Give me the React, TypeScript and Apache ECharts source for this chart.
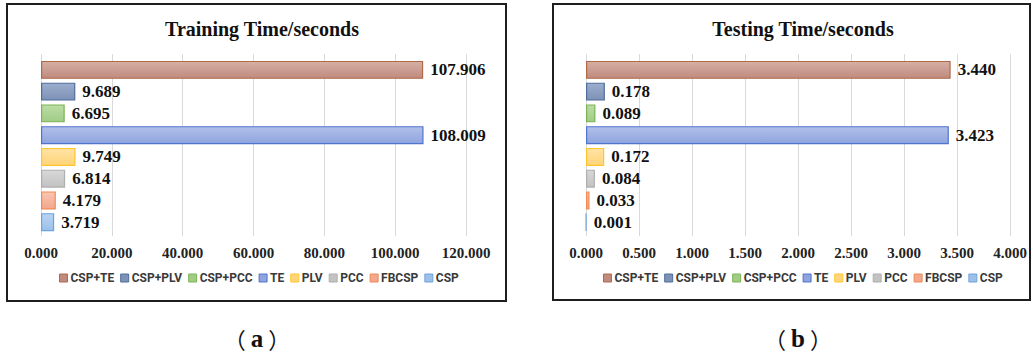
import React, { useEffect, useRef } from "react";
import * as echarts from "echarts";

// Method names, top to bottom, also the legend order
const methods = ["CSP+TE", "CSP+PLV", "CSP+PCC", "TE", "PLV", "PCC", "FBCSP", "CSP"];

// Training time in seconds, per method
const trainingTime = [107.906, 9.689, 6.695, 108.009, 9.749, 6.814, 4.179, 3.719];

// Testing time in seconds, per method
const testingTime = [3.44, 0.178, 0.089, 3.423, 0.172, 0.084, 0.033, 0.001];

// Axis ranges and tick steps
const trainingAxis = { min: 0, max: 120, interval: 20 };
const testingAxis = { min: 0, max: 4, interval: 0.5 };

const panelTitles = ["Training Time/seconds", "Testing Time/seconds"];
const captions = ["a", "b"];

// Border colour, gradient top and gradient bottom for each method
const palette: [string, string, string][] = [
  ["#b06a48", "#d6b0a6", "#c08a7d"],
  ["#4e6d9c", "#9daecd", "#7d92b7"],
  ["#7cb356", "#bcdca6", "#a0cc86"],
  ["#4f74cf", "#b2c0ea", "#8fa4de"],
  ["#ffc52e", "#ffe3a3", "#ffd47a"],
  ["#afafaf", "#d8d8d8", "#c2c2c2"],
  ["#ef8a52", "#f9c6b3", "#f2a78e"],
  ["#6ea4dc", "#bad4f2", "#9cc0ea"],
];

const SERIF = "'Liberation Serif', 'Times New Roman', serif";
const SANS = "'Liberation Sans Narrow', 'Arial Narrow', Roboto, 'Liberation Sans', sans-serif";

export default function App() {
  const ref = useRef<HTMLDivElement>(null);

  useEffect(() => {
    if (!ref.current) return;
    const chart = echarts.init(ref.current, null, { renderer: "svg" });

    const panels = [
      { left: 41, width: 425, axis: trainingAxis, values: trainingTime, cx: 257, legendLeft: 59 },
      { left: 586, width: 424, axis: testingAxis, values: testingTime, cx: 798, legendLeft: 603 },
    ];

    const grids: any[] = [];
    const xAxes: any[] = [];
    const yAxes: any[] = [];
    const series: any[] = [];
    const titles: any[] = [];
    const legends: any[] = [];

    panels.forEach((p, pi) => {
      // grid holding the vertical gridlines and tick labels
      grids.push({ left: p.left, width: p.width, top: 54, height: 182 });
      // grid holding the bars
      grids.push({ left: p.left, width: p.width, top: 59, height: 174 });
      const gGrid = pi * 2;
      const bGrid = pi * 2 + 1;

      xAxes.push({
        type: "value",
        gridIndex: gGrid,
        min: p.axis.min,
        max: p.axis.max,
        interval: p.axis.interval,
        axisLine: { show: false },
        axisTick: { show: false },
        splitLine: { show: true, lineStyle: { color: "#d9d9d9", width: 1 } },
        axisLabel: {
          margin: 9,
          fontFamily: SERIF,
          fontWeight: "bold",
          fontSize: 15,
          color: "#222",
          formatter: (v: number) => v.toFixed(3),
        },
      });
      yAxes.push({
        type: "category",
        gridIndex: gGrid,
        data: [""],
        show: false,
      });

      xAxes.push({
        type: "value",
        gridIndex: bGrid,
        min: p.axis.min,
        max: p.axis.max,
        show: false,
        splitLine: { show: false },
      });
      yAxes.push({
        type: "category",
        gridIndex: bGrid,
        data: methods,
        inverse: true,
        show: false,
      });

      methods.forEach((name, i) => {
        const [border, top, bottom] = palette[i];
        series.push({
          type: "bar",
          name,
          xAxisIndex: pi * 2 + 1,
          yAxisIndex: pi * 2 + 1,
          barWidth: 18,
          barGap: "-100%",
          data: methods.map((_, j) => (j === i ? p.values[i] : "-")),
          itemStyle: {
            color: new echarts.graphic.LinearGradient(0, 0, 0, 1, [
              { offset: 0, color: top },
              { offset: 1, color: bottom },
            ]),
            borderColor: border,
            borderWidth: 1.2,
          },
          label: {
            show: true,
            position: "right",
            distance: 7,
            fontFamily: SERIF,
            fontWeight: "bold",
            fontSize: 17,
            color: "#111",
            formatter: (d: any) => Number(d.value).toFixed(3),
          },
        });
      });

      titles.push({
        text: panelTitles[pi],
        left: p.cx,
        top: 14,
        padding: 5,
        textAlign: "center",
        textStyle: { fontFamily: SERIF, fontWeight: "bold", fontSize: 20, color: "#111" },
      });

      legends.push({
        data: methods.map((name, i) => ({
          name,
          itemStyle: { color: palette[i][2], borderColor: palette[i][0], borderWidth: 1 },
        })),
        left: p.legendLeft,
        top: 272,
        padding: 0,
        orient: "horizontal",
        icon: "rect",
        itemWidth: 8,
        itemHeight: 8,
        itemGap: 6,
        textStyle: { fontFamily: SANS, fontWeight: "bold", fontSize: 12, color: "#3a3a3a", padding: [0, 0, 0, -2] },
      });
    });

    const graphic: any[] = [
      {
        type: "rect",
        shape: { x: 7, y: 4, width: 499, height: 297 },
        style: { fill: "none", stroke: "#1e1e1e", lineWidth: 2 },
        silent: true,
      },
      {
        type: "rect",
        shape: { x: 553, y: 4, width: 477, height: 296 },
        style: { fill: "none", stroke: "#1e1e1e", lineWidth: 2 },
        silent: true,
      },
    ];
    panels.forEach((p, pi) => {
      graphic.push({
        type: "text",
        x: p.cx,
        y: 338,
        style: {
          text: `{l|（}{b|${captions[pi]}}{r|）}`,
          align: "center",
          verticalAlign: "middle",
          rich: {
            l: { fontFamily: "'Noto Sans CJK SC', sans-serif", fontSize: 22, fontWeight: "normal", fill: "#111", padding: [0, 5, 0, 0] },
            b: { fontFamily: SERIF, fontSize: 25, fontWeight: "bold", fill: "#111" },
            r: { fontFamily: "'Noto Sans CJK SC', sans-serif", fontSize: 22, fontWeight: "normal", fill: "#111", padding: [0, 0, 0, 5] },
          },
        },
      });
    });

    chart.setOption({
      animation: false,
      backgroundColor: "#ffffff",
      title: titles,
      legend: legends,
      grid: grids,
      xAxis: xAxes,
      yAxis: yAxes,
      series,
      graphic,
    });

    return () => chart.dispose();
  }, []);

  return (
    <div
      ref={ref}
      style={{ position: "absolute", left: 0, top: 0, width: 1033, height: 354, background: "#fff" }}
    />
  );
}
